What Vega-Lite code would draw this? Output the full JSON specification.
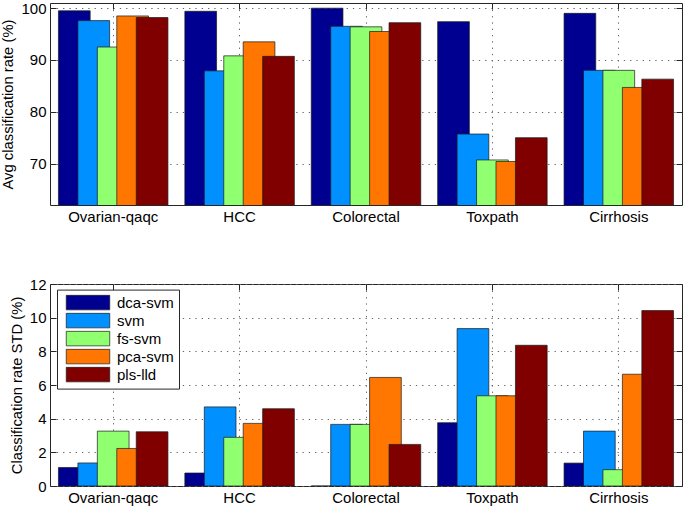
{
  "$schema": "https://vega.github.io/schema/vega-lite/v6.json",
  "padding": {"left": 0, "top": 0, "right": 2, "bottom": 0},
  "background": "white",
  "config": {
    "font": "Liberation Sans",
    "view": {"stroke": "#262626", "strokeWidth": 1},
    "axis": {
      "labelFont": "Liberation Sans",
      "labelFontSize": 15,
      "labelColor": "black",
      "titleFont": "Liberation Sans",
      "titleFontSize": 14.8,
      "titleFontWeight": "normal",
      "titleColor": "black",
      "tickColor": "#262626",
      "tickSize": -6,
      "labelPadding": 10,
      "titlePadding": 5,
      "domain": false,
      "gridDash": [1.3, 5],
      "gridColor": "#666666",
      "gridWidth": 1
    },
    "bar": {"stroke": "#1a1a1a", "strokeWidth": 0.7}
  },
  "datasets": {
    "avg": [
      {"dataset": "Ovarian-qaqc", "method": "dca-svm", "value": 99.5},
      {"dataset": "Ovarian-qaqc", "method": "svm", "value": 97.6},
      {"dataset": "Ovarian-qaqc", "method": "fs-svm", "value": 92.5},
      {"dataset": "Ovarian-qaqc", "method": "pca-svm", "value": 98.5},
      {"dataset": "Ovarian-qaqc", "method": "pls-lld", "value": 98.2},
      {"dataset": "HCC", "method": "dca-svm", "value": 99.4},
      {"dataset": "HCC", "method": "svm", "value": 87.9},
      {"dataset": "HCC", "method": "fs-svm", "value": 90.8},
      {"dataset": "HCC", "method": "pca-svm", "value": 93.5},
      {"dataset": "HCC", "method": "pls-lld", "value": 90.7},
      {"dataset": "Colorectal", "method": "dca-svm", "value": 100},
      {"dataset": "Colorectal", "method": "svm", "value": 96.5},
      {"dataset": "Colorectal", "method": "fs-svm", "value": 96.4},
      {"dataset": "Colorectal", "method": "pca-svm", "value": 95.5},
      {"dataset": "Colorectal", "method": "pls-lld", "value": 97.2},
      {"dataset": "Toxpath", "method": "dca-svm", "value": 97.4},
      {"dataset": "Toxpath", "method": "svm", "value": 75.7},
      {"dataset": "Toxpath", "method": "fs-svm", "value": 70.7},
      {"dataset": "Toxpath", "method": "pca-svm", "value": 70.4},
      {"dataset": "Toxpath", "method": "pls-lld", "value": 75.0},
      {"dataset": "Cirrhosis", "method": "dca-svm", "value": 99.0},
      {"dataset": "Cirrhosis", "method": "svm", "value": 88.0},
      {"dataset": "Cirrhosis", "method": "fs-svm", "value": 88.0},
      {"dataset": "Cirrhosis", "method": "pca-svm", "value": 84.7},
      {"dataset": "Cirrhosis", "method": "pls-lld", "value": 86.3}
    ],
    "std": [
      {"dataset": "Ovarian-qaqc", "method": "dca-svm", "value": 1.1},
      {"dataset": "Ovarian-qaqc", "method": "svm", "value": 1.37},
      {"dataset": "Ovarian-qaqc", "method": "fs-svm", "value": 3.26},
      {"dataset": "Ovarian-qaqc", "method": "pca-svm", "value": 2.23},
      {"dataset": "Ovarian-qaqc", "method": "pls-lld", "value": 3.22},
      {"dataset": "HCC", "method": "dca-svm", "value": 0.77},
      {"dataset": "HCC", "method": "svm", "value": 4.7},
      {"dataset": "HCC", "method": "fs-svm", "value": 2.89},
      {"dataset": "HCC", "method": "pca-svm", "value": 3.72},
      {"dataset": "HCC", "method": "pls-lld", "value": 4.59},
      {"dataset": "Colorectal", "method": "dca-svm", "value": 0},
      {"dataset": "Colorectal", "method": "svm", "value": 3.66},
      {"dataset": "Colorectal", "method": "fs-svm", "value": 3.66},
      {"dataset": "Colorectal", "method": "pca-svm", "value": 6.45},
      {"dataset": "Colorectal", "method": "pls-lld", "value": 2.47},
      {"dataset": "Toxpath", "method": "dca-svm", "value": 3.76},
      {"dataset": "Toxpath", "method": "svm", "value": 9.35},
      {"dataset": "Toxpath", "method": "fs-svm", "value": 5.36},
      {"dataset": "Toxpath", "method": "pca-svm", "value": 5.36},
      {"dataset": "Toxpath", "method": "pls-lld", "value": 8.36},
      {"dataset": "Cirrhosis", "method": "dca-svm", "value": 1.36},
      {"dataset": "Cirrhosis", "method": "svm", "value": 3.26},
      {"dataset": "Cirrhosis", "method": "fs-svm", "value": 0.97},
      {"dataset": "Cirrhosis", "method": "pca-svm", "value": 6.64},
      {"dataset": "Cirrhosis", "method": "pls-lld", "value": 10.42}
    ]
  },
  "vconcat": [
    {
      "width": 632,
      "height": 202,
      "data": {"name": "avg"},
      "resolve": {"axis": {"x": "independent", "y": "independent"}},
      "layer": [
        {
          "mark": {"type": "bar", "width": 31.7, "clip": true},
          "encoding": {
            "x": {"field": "dataset", "type": "nominal", "sort": null,
              "scale": {"paddingInner": 0, "paddingOuter": 0},
              "axis": {"title": null, "labelAngle": 0, "orient": "bottom", "grid": true}},
            "xOffset": {"field": "method", "type": "nominal", "sort": null,
              "scale": {"type": "band", "paddingInner": 0, "paddingOuter": 0.75}},
            "y": {"field": "value", "type": "quantitative",
              "scale": {"domain": [62, 101], "nice": false, "zero": false},
              "axis": {"title": "Avg classification rate (%)", "values": [70, 80, 90, 100], "grid": true}},
            "color": {"field": "method", "type": "nominal", "sort": null,
              "scale": {"domain": ["dca-svm", "svm", "fs-svm", "pca-svm", "pls-lld"],
                "range": ["#000090", "#0090FF", "#90FF70", "#FF7700", "#800000"]},
              "legend": null}
          }
        },
        {
          "mark": {"type": "point", "opacity": 0, "size": 1, "clip": true},
          "encoding": {
            "x": {"field": "dataset", "type": "nominal", "sort": null,
              "scale": {"paddingInner": 0, "paddingOuter": 0},
              "axis": {"title": null, "labels": false, "orient": "top", "grid": false}},
            "y": {"field": "value", "type": "quantitative",
              "scale": {"domain": [62, 101], "nice": false, "zero": false},
              "axis": {"title": null, "labels": false, "orient": "right", "values": [70, 80, 90, 100], "grid": false}}
          }
        }
      ]
    },
    {
      "width": 632,
      "height": 202,
      "data": {"name": "std"},
      "resolve": {"axis": {"x": "independent", "y": "independent"}},
      "layer": [
        {
          "mark": {"type": "bar", "width": 31.7, "clip": true},
          "encoding": {
            "x": {"field": "dataset", "type": "nominal", "sort": null,
              "scale": {"paddingInner": 0, "paddingOuter": 0},
              "axis": {"title": null, "labelAngle": 0, "orient": "bottom", "grid": true}},
            "xOffset": {"field": "method", "type": "nominal", "sort": null,
              "scale": {"type": "band", "paddingInner": 0, "paddingOuter": 0.75}},
            "y": {"field": "value", "type": "quantitative",
              "scale": {"domain": [0, 12], "nice": false},
              "axis": {"title": "Classification rate STD (%)", "values": [0, 2, 4, 6, 8, 10, 12], "grid": true}},
            "color": {"field": "method", "type": "nominal", "sort": null,
              "scale": {"domain": ["dca-svm", "svm", "fs-svm", "pca-svm", "pls-lld"],
                "range": ["#000090", "#0090FF", "#90FF70", "#FF7700", "#800000"]},
              "legend": {
                "orient": "none", "legendX": 7, "legendY": 5.6, "title": null,
                "symbolType": "M-3,-1H3V1H-3Z", "symbolSize": 210,
                "symbolStrokeColor": "#1a1a1a", "symbolStrokeWidth": 0.7,
                "symbolOffset": 18, "labelOffset": 21,
                "labelFont": "Liberation Sans", "labelFontSize": 15, "labelColor": "black",
                "rowPadding": 0, "padding": 5,
                "strokeColor": "#262626", "fillColor": "white", "symbolOpacity": 1
              }}
          }
        },
        {
          "mark": {"type": "point", "opacity": 0, "size": 1, "clip": true},
          "encoding": {
            "x": {"field": "dataset", "type": "nominal", "sort": null,
              "scale": {"paddingInner": 0, "paddingOuter": 0},
              "axis": {"title": null, "labels": false, "orient": "top", "grid": false}},
            "y": {"field": "value", "type": "quantitative",
              "scale": {"domain": [0, 12], "nice": false},
              "axis": {"title": null, "labels": false, "orient": "right", "values": [0, 2, 4, 6, 8, 10, 12], "grid": false}}
          }
        }
      ]
    }
  ],
  "spacing": 79,
  "bounds": "flush",
  "resolve": {"scale": {"color": "independent"}, "legend": {"color": "independent"}}
}
